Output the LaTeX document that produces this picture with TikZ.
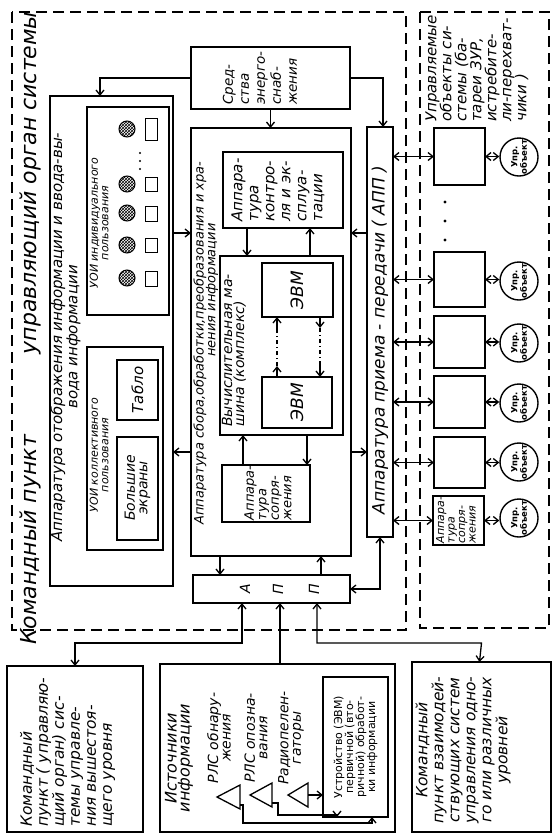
\documentclass[tikz,border=0pt]{standalone}
\usepackage{fontspec}
\setmainfont{DejaVu Sans}
\usetikzlibrary{patterns,arrows.meta}
\newcommand{\fs}[2]{\fontsize{#1}{#2}\selectfont}
\newcommand\bx[5]{\node[box,minimum width={(#4)-(#2)},minimum height={(#5)-(#3)}] (#1) at ({((#2)+(#4))/2},{((#3)+(#5))/2}) {};}
\begin{document}
\begin{tikzpicture}[x=1pt,y=-1pt,
  >={Straight Barb[length=5pt,width=8pt]},
  box/.style={draw, line width=1.4pt, rectangle, inner sep=0pt, outer sep=0pt},
  ln/.style={line width=1.3pt},
  dsh/.style={line width=1.4pt, dash pattern=on 11pt off 6pt},
  rt/.style={rotate=90, inner sep=0pt, font=\itshape},
  hc/.style={draw, line width=1pt, pattern=crosshatch, circle, inner sep=0pt, minimum size=16pt},
  obj/.style={draw, line width=1.4pt, circle, inner sep=0pt, minimum size=38pt},
]
\useasboundingbox (0,0) rectangle (553,836);
% dashed frames
\draw[dsh] (12,12) rectangle (406,630);
\draw[dsh] (420,12) rectangle (549,628);
% titles
\node[rt, font=\itshape\fs{22}{22}] (t1) at (30,540) {Командный пункт};
\node[rt, font=\itshape\fs{22}{22}] (t2) at (30,183) {управляющий орган системы};
% display block
\bx{disp}{50}{96}{173}{586}
\node[rt, align=center, font=\itshape\fs{15}{12.5}] (dispT) at (65.5,337) {Аппаратура отображения информации и ввода-вы-\\вода информации};
\bx{uoiA}{87}{107}{169}{315}
\node[rt, align=center, font=\itshape\fs{11}{10.5}] (uoiAT) at (99,223) {УОИ индивидуального\\пользования};
\foreach \i/\cy/\sa/\sb in {1/129/118/140, 2/184/177/191, 3/213/206/221, 4/245/238/252, 5/278/271/286}{
  \node[hc] (hc\i) at (127,\cy) {};
  \node[box, line width=1pt, minimum width=12pt, minimum height={\sb-\sa}] (hs\i) at (151,{(\sa+\sb)/2}) {};
}
\foreach \yy in {153,161,169} \fill (140,\yy) circle (1.2pt);
\bx{uoiB}{87}{347}{163}{550}
\node[rt, align=center, font=\itshape\fs{11}{10.5}] (uoiBT) at (99,455) {УОИ коллективного\\пользования};
\bx{bigs}{117}{437}{158}{540}
\node[rt, align=center, font=\itshape\fs{14}{12.5}] (bigsT) at (137.5,488) {Большие\\экраны};
\bx{tablo}{117}{360}{158}{420}
\node[rt, font=\itshape\fs{15}{15}] (tabloT) at (137.5,390) {Табло};
% power
\bx{power}{191}{47}{350}{109}
\node[rt, align=left, font=\itshape\fs{13.5}{16}] (powerT) at (260,78) {Сред-\\ства\\энерго-\\снаб-\\жения};
% processing
\bx{proc}{191}{128}{351}{556}
\node[rt, font=\itshape\fs{13}{13}] (procT1) at (200,343) {Аппаратура сбора,обработки,преобразования и хра-};
\node[rt, font=\itshape\fs{13}{13}] (procT2) at (212,290) {нения информации};
\bx{ctrl}{223}{152}{343}{228}
\node[rt, align=left, font=\itshape\fs{15}{16}] (ctrlT) at (278,190) {Аппара-\\тура\\контро-\\ля и эк-\\сплуа-\\тации};
\bx{vm}{220}{256}{343}{435}
\node[rt, align=left, anchor=west, font=\itshape\fs{14}{12}] (vmT) at (234,427) {Вычислительная ма-\\шина (комплекс)};
\bx{evmA}{262}{263}{333}{317}
\node[rt, font=\itshape\fs{17}{17}] (evmAT) at (297,290) {ЭВМ};
\bx{evmB}{262}{377}{332}{428}
\node[rt, font=\itshape\fs{17}{17}] (evmBT) at (297,402) {ЭВМ};
\bx{sopr}{222}{465}{310}{522}
\node[rt, align=left, font=\itshape\fs{13}{12.5}] (soprT) at (268,493) {Аппара-\\тура\\сопря-\\жения};
% APP big
\bx{app}{367}{127}{393}{537}
\node[rt, font=\itshape\fs{17}{17}] (appT) at (380,340) {Аппаратура приема - передачи ( АПП )};
% small APP
\bx{sapp}{193}{575}{350}{603}
\node[rt, font=\itshape\fs{14}{14}] (sa1) at (245,589) {А};
\node[rt, font=\itshape\fs{14}{14}] (sa2) at (278,589) {П};
\node[rt, font=\itshape\fs{14}{14}] (sa3) at (314,589) {П};
% managed objects
\node[rt, align=left, anchor=west, font=\itshape\fs{15}{15}] (manT) at (477,122) {Управляемые\\объекты си-\\стемы (ба-\\тареи ЗУР,\\истребите-\\ли-перехват-\\чики )};
\bx{sq1}{434}{128}{485}{185}
\bx{sq2}{434}{252}{485}{307}
\bx{sq3}{434}{316}{485}{368}
\bx{sq4}{434}{376}{485}{428}
\bx{sq5}{434}{437}{485}{488}
\bx{sq6}{433}{496}{484}{545}
\node[rt, align=left, font=\itshape\fs{11}{10.5}] (sq6T) at (456,520) {Аппара-\\тура\\сопря-\\жения};
\foreach \yy in {202,221,240} \fill (445,\yy) circle (1.6pt);
\foreach \i/\cy in {1/157,2/281,3/343,4/403,5/462,6/518}{
  \node[obj] (c\i) at (519,\cy) {};
  \node[rotate=90, align=center, inner sep=0pt, font=\bfseries\fs{8.5}{8.5}] at (c\i) {Упр.\\объект};
  \draw[ln,<->] (app.east |- sq\i.west) -- (sq\i.west);
  \draw[ln,<->] (sq\i.east) -- (sq\i.east -| c\i.west);
}
% outside boxes
\bx{up}{7}{666}{143}{832}
\node[rt, align=left, anchor=west, font=\itshape\fs{15.5}{16}] (upT) at (67.5,827) {Командный\\пункт ( управляю-\\щий орган) сис-\\темы управле-\\ния вышестоя-\\щего уровня};
\bx{src}{160}{664}{395}{832}
\node[rt, align=center, font=\itshape\fs{16}{13}] (srcT) at (179,758) {Источники\\информации};
\node[rt, align=center, font=\itshape\fs{14}{12.5}] (r1) at (219,738) {РЛС обнару-\\жения};
\node[rt, align=center, font=\itshape\fs{14}{12.5}] (r2) at (256,738) {РЛС опозна-\\вания};
\node[rt, align=center, font=\itshape\fs{14}{12.5}] (r3) at (291,738) {Радиопелен-\\гаторы};
\bx{dev}{323}{677}{388}{817}
\node[rt, align=center, font=\fs{11}{11}] (devT) at (355.5,747) {Устройство (ЭВМ)\\первичной (вто-\\ричной) обработ-\\ки информации};
\draw[line width=1.3pt] (217,797) -- (240,785) -- (240,809) -- cycle;
\draw[line width=1.3pt] (250,795) -- (272,783) -- (272,807) -- cycle;
\draw[line width=1.3pt] (288,795) -- (308,783) -- (308,807) -- cycle;
\coordinate (tr1) at (240,805);
\coordinate (tr2) at (272,803);
\coordinate (tr3) at (308,795);
\draw[ln,->] (tr3) -- (tr3 -| dev.west);
\draw[ln,->] (tr2) -| (278,815) -| ([xshift=14pt]dev.south west);
\draw[ln,->] (tr1) -| (243,823) -| ([xshift=49pt]dev.south west);
\bx{inter}{412}{662}{551}{832}
\node[rt, align=center, font=\itshape\fs{15.5}{16}] (interT) at (463,750) {Командный\\пункт взаимодей-\\ствующих систем\\управления одно-\\го или различных\\уровней};
% connectors
\draw[ln,->] (power.west) -| ([xshift=50pt]disp.north west);
\draw[ln,->] (power.east) -| ([xshift=16pt]app.north west);
\draw[ln,->] (power.south) -- (power.south |- proc.north);
\draw[ln,->] (disp.east |- 0,233) -- (proc.west |- 0,233);
\draw[ln,->] (proc.west |- 0,452) -- (disp.east |- 0,452);
\draw[ln,->] (app.west |- 0,233) -- (proc.east |- 0,233);
\draw[ln,->] (proc.east |- 0,452) -- (app.west |- 0,452);
\draw[ln,->] ([xshift=24pt]ctrl.south west) -- ([xshift=24pt]ctrl.south west |- vm.north);
\draw[ln,->] ([xshift=87pt]ctrl.south west |- vm.north) -- ([xshift=87pt]ctrl.south west);
\draw[ln,->] ([xshift=21pt]sopr.north west) -- ([xshift=21pt]sopr.north west |- vm.south);
\draw[ln,->] ([xshift=85pt]sopr.north west |- vm.south) -- ([xshift=85pt]sopr.north west);
% EVM chain
\coordinate (eL) at ([xshift=15pt]evmB.north west);
\coordinate (eR) at ([xshift=58pt]evmA.south west);
\draw[ln,->] (eL) -- ++(0,-11);
\draw[ln, dash pattern=on 4pt off 3pt on 1pt off 3pt] ([yshift=11pt]eL) -- ([yshift=-13pt]eL |- evmA.south);
\draw[ln,->] ([yshift=-13pt]eL |- evmA.south) -- (eL |- evmA.south);
\draw[ln,->] (eR) -- ++(0,11);
\draw[ln, dash pattern=on 4pt off 3pt on 1pt off 3pt] ([yshift=-11pt]eR) -- ([yshift=13pt]eR |- evmB.north);
\draw[ln,->] ([yshift=13pt]eR |- evmB.north) -- (eR |- evmB.north);
% processing <-> small APP
\draw[ln,->] ([xshift=29pt]proc.south west) -- ([xshift=29pt]proc.south west |- sapp.north);
\draw[ln,->] ([xshift=130pt]proc.south west |- sapp.north) -- ([xshift=130pt]proc.south west);
\draw[ln,<->] (sapp.east) -| ([xshift=13pt]app.south west);
% small APP <-> outside
\draw[ln,<->] ([xshift=49pt]sapp.south west) |- (0,643 -| up.north) -- (up.north);
\draw[ln,->] ([xshift=87pt]sapp.south west |- src.north) -- ([xshift=87pt]sapp.south west);
\draw[ln,<->] ([xshift=124pt]sapp.south west) |- (0,643 -| inter.north) -- ([xshift=-2pt]inter.north);
\end{tikzpicture}
\end{document}
